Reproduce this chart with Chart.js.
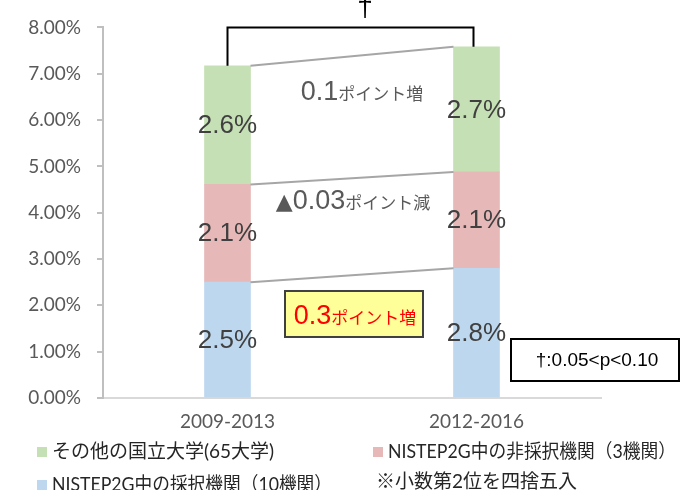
<!DOCTYPE html>
<html lang="ja">
<head>
<meta charset="utf-8">
<script src="https://cdn.jsdelivr.net/npm/chart.js@4.4.1/dist/chart.umd.min.js"></script>
<style>
  html, body { margin: 0; padding: 0; background: #fff; }
  #wrap { width: 681px; height: 490px; position: relative; }
</style>
</head>
<body>
<div id="wrap"><canvas id="shareChart"></canvas></div>
<script>
// 期間ごとのシェア（%）
const periods = ["2009-2013", "2012-2016"];
const adopted = [2.50, 2.80];     // NISTEP2G中の採択機関
const notAdopted = [2.11, 2.08];  // NISTEP2G中の非採択機関
const others = [2.56, 2.70];      // その他の国立大学

const seriesNames = [
  "NISTEP2G中の採択機関（10機関）",
  "NISTEP2G中の非採択機関（3機関）",
  "その他の国立大学(65大学)"
];
const seriesColors = ["#bdd7ee", "#e6b9b8", "#c5e0b4"];

// 各区間の増減コメント（記号, 数値部分, 文字部分）
const changeNotes = [
  ["", "0.3", "ポイント増"],
  ["▲", "0.03", "ポイント減"],
  ["", "0.1", "ポイント増"]
];
const footNote = "※小数第2位を四捨五入";
const sigNote = "†:0.05<p<0.10";

const LATIN = "'Liberation Sans', Arial, sans-serif";
const SYMBOL = "'DejaVu Sans', sans-serif";
const JP = "'Noto Sans CJK JP', sans-serif";
const TICK = "Lato, 'Noto Sans CJK JP', sans-serif";

// 数字は大きく、「ポイント増」は小さく並べて描く
function drawMixed(ctx, parts, cx, baseY) {
  let total = 0;
  parts.forEach(p => { ctx.font = p.font; p.w = ctx.measureText(p.text).width; total += p.w; });
  let x = cx - total / 2;
  ctx.textAlign = "left";
  ctx.textBaseline = "alphabetic";
  parts.forEach(p => {
    ctx.font = p.font;
    ctx.fillStyle = p.color;
    ctx.fillText(p.text, x, baseY);
    x += p.w;
  });
}

function noteParts(note, color) {
  return [
    { text: note[0], font: "22px " + SYMBOL, color: color },
    { text: note[1], font: "27px " + LATIN, color: color },
    { text: note[2], font: "17px " + JP, color: color }
  ];
}

const overlayPlugin = {
  id: "overlay",
  afterDatasetsDraw(chart) {
    const ctx = chart.ctx;
    const y = chart.scales.y;
    const metas = [0, 1, 2].map(i => chart.getDatasetMeta(i));
    ctx.save();

    // 区間の上端どうしを結ぶ線
    ctx.strokeStyle = "#a6a6a6";
    ctx.lineWidth = 2;
    metas.forEach(m => {
      const a = m.data[0], b = m.data[1];
      ctx.beginPath();
      ctx.moveTo(a.x + a.width / 2, a.y);
      ctx.lineTo(b.x - b.width / 2, b.y);
      ctx.stroke();
    });

    // 各区間の値
    ctx.font = "26px " + LATIN;
    ctx.fillStyle = "#404040";
    ctx.textAlign = "center";
    ctx.textBaseline = "middle";
    metas.forEach((m, i) => {
      m.data.forEach((bar, j) => {
        const v = chart.data.datasets[i].data[j];
        ctx.fillText(v.toFixed(1) + "%", bar.x, (bar.y + bar.base) / 2 + 1);
      });
    });

    // 合計どうしの検定ブラケット
    const t0 = metas[2].data[0], t1 = metas[2].data[1];
    const top = y.getPixelForValue(8);
    ctx.strokeStyle = "#000";
    ctx.lineWidth = 2;
    ctx.beginPath();
    ctx.moveTo(t0.x, t0.y);
    ctx.lineTo(t0.x, top);
    ctx.lineTo(t1.x - 3, top);
    ctx.lineTo(t1.x - 3, t1.y);
    ctx.stroke();
    ctx.fillStyle = "#000";
    ctx.font = "28px " + LATIN;
    ctx.textAlign = "center";
    ctx.textBaseline = "alphabetic";
    ctx.fillText("†", (t0.x + t1.x) / 2 + 13, 16);

    const midX = ((t0.x + t0.width / 2) + (t1.x - t1.width / 2)) / 2;

    // 増減コメント
    drawMixed(ctx, noteParts(changeNotes[2], "#595959"), midX + 10, y.getPixelForValue(6.44));
    drawMixed(ctx, noteParts(changeNotes[1], "#595959"), midX + 1, y.getPixelForValue(4.08));

    // 黄色の強調ボックス
    const bx = midX - 67, by = y.getPixelForValue(2.31), bw = 138, bh = 46;
    ctx.fillStyle = "#ffff99";
    ctx.fillRect(bx, by, bw, bh);
    ctx.strokeStyle = "#404040";
    ctx.lineWidth = 2;
    ctx.strokeRect(bx, by, bw, bh);
    drawMixed(ctx, noteParts(changeNotes[0], "#ff0000"), midX + 3, by + 33);

    // 有意水準の注記
    ctx.fillStyle = "#fff";
    ctx.fillRect(511, 339, 168, 42);
    ctx.strokeStyle = "#000";
    ctx.strokeRect(511, 339, 168, 42);
    ctx.fillStyle = "#000";
    ctx.font = "19px " + LATIN;
    ctx.textAlign = "center";
    ctx.textBaseline = "middle";
    ctx.fillText(sigNote, 597, 361);

    ctx.restore();
  },
  afterDraw(chart) {
    // 凡例（2列）
    const ctx = chart.ctx;
    ctx.save();
    ctx.textBaseline = "middle";
    ctx.textAlign = "left";
    const items = [
      { color: seriesColors[2], text: seriesNames[2], x: 37, y: 452, w: 238 },
      { color: seriesColors[1], text: seriesNames[1], x: 373, y: 452, w: 288 },
      { color: seriesColors[0], text: seriesNames[0], x: 37, y: 485, w: 280 },
      { color: null, text: footNote, x: 376, y: 482, w: 206 }
    ];
    items.forEach(it => {
      ctx.font = "19px " + TICK;
      ctx.fillStyle = "#262626";
      if (it.color) {
        ctx.fillStyle = it.color;
        ctx.fillRect(it.x, it.y - 5, 10, 10);
        ctx.fillStyle = "#262626";
        ctx.fillText(it.text, it.x + 15, it.y, it.w);
      } else {
        ctx.fillText(it.text, it.x, it.y, it.w);
      }
    });
    ctx.restore();
  }
};

new Chart(document.getElementById("shareChart"), {
  type: "bar",
  data: {
    labels: periods,
    datasets: [
      { label: seriesNames[0], data: adopted, backgroundColor: seriesColors[0] },
      { label: seriesNames[1], data: notAdopted, backgroundColor: seriesColors[1] },
      { label: seriesNames[2], data: others, backgroundColor: seriesColors[2] }
    ]
  },
  options: {
    responsive: true,
    maintainAspectRatio: false,
    animation: false,
    barThickness: 46,
    layout: { padding: { top: 27, left: 0, right: 80, bottom: 0 } },
    plugins: {
      legend: { display: false },
      tooltip: { enabled: false }
    },
    scales: {
      x: {
        stacked: true,
        grid: { display: false, drawTicks: false },
        border: { display: true, color: "#d9d9d9", width: 2 },
        ticks: { color: "#595959", font: { family: TICK, size: 19 }, padding: 12 },
        afterFit(scale) { scale.height = 92; }
      },
      y: {
        stacked: true,
        min: 0,
        max: 8,
        ticks: {
          stepSize: 1,
          color: "#595959",
          font: { family: TICK, size: 19 },
          padding: 16,
          callback: v => v.toFixed(2) + "%"
        },
        grid: { drawOnChartArea: false, drawTicks: true, tickLength: 6, color: "#bfbfbf", lineWidth: 2 },
        border: { display: true, color: "#bfbfbf", width: 2 },
        afterFit(scale) { scale.width = 103; }
      }
    }
  },
  plugins: [overlayPlugin]
});
</script>
</body>
</html>
